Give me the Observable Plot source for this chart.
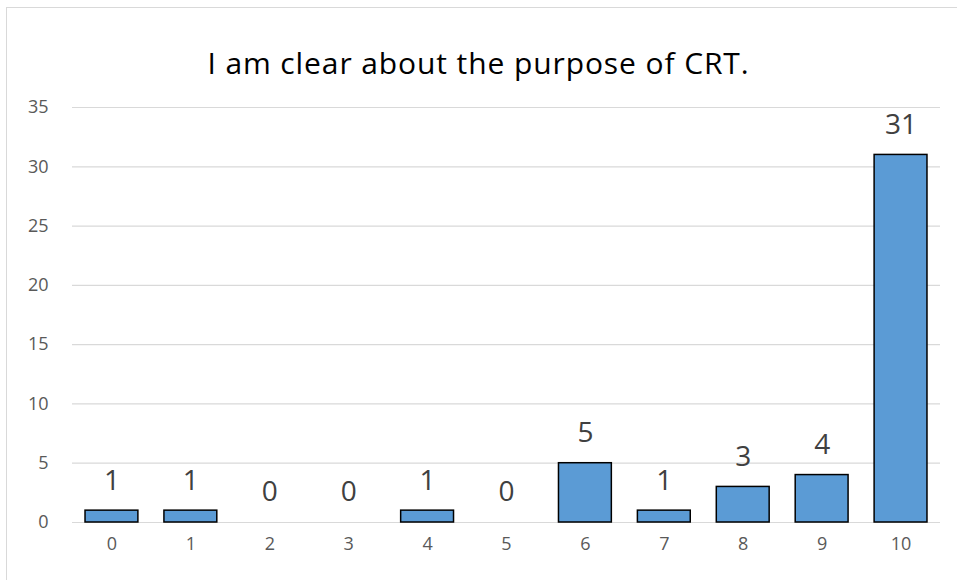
<!DOCTYPE html>
<html>
<head>
<meta charset="utf-8">
<script src="https://cdn.jsdelivr.net/npm/d3@7"></script>
<script src="https://cdn.jsdelivr.net/npm/@observablehq/plot@0.6"></script>
<style>
  body { margin: 0; background: #fff; font-family: "Open Sans", sans-serif; }
  #wrap { position: relative; width: 957px; height: 580px; overflow: hidden; }
  #frame { position: absolute; left: 6px; top: 7px; width: 960px; height: 600px; border: 1px solid #d9d9d9; box-sizing: border-box; }
  #title { position: absolute; left: 0; top: 0; width: 957px; height: 90px; line-height: 1; text-align: center; font-size: 30px; letter-spacing: 0.9px; color: #000; padding-top: 48px; box-sizing: border-box; }
  #chart { position: absolute; left: 0; top: 90px; }
</style>
</head>
<body>
<div id="wrap">
  <div id="frame"></div>
  <div id="title">I am clear about the purpose of CRT.</div>
  <div id="chart"></div>
</div>
<script>
const categories = ["0","1","2","3","4","5","6","7","8","9","10"];
const counts = [1, 1, 0, 0, 1, 0, 5, 1, 3, 4, 31];
const yTicks = [0, 5, 10, 15, 20, 25, 30, 35];

const data = categories.map((c, i) => ({cat: c, n: counts[i]}));

const chart = Plot.plot({
  width: 957,
  height: 490,
  marginLeft: 72,
  marginRight: 17,
  marginTop: 17,
  marginBottom: 58,
  style: { fontFamily: "Open Sans, sans-serif", background: "transparent" },
  x: { domain: categories, paddingInner: 0.33, paddingOuter: 0.165, round: false, axis: null, label: null },
  y: { domain: [0, 35], axis: null, label: null },
  marks: [
    Plot.gridY(yTicks, { stroke: "#d9d9d9", strokeOpacity: 1, strokeWidth: 1.2 }),
    Plot.text(yTicks, { y: d => d, text: d => String(d), frameAnchor: "left", textAnchor: "end", dx: -24, fontSize: 18, fill: "#595959" }),
    Plot.text(categories, { x: d => d, text: d => d, frameAnchor: "bottom", dy: 27, fontSize: 18, fill: "#595959" }),
    Plot.barY(data, { x: "cat", y: "n", fill: "#5b9bd5", stroke: "#000", strokeWidth: 1.5 }),
    Plot.text(data, { x: "cat", y: "n", text: d => String(d.n), dy: -30, fontSize: 28, fill: "#404040" })
  ]
});
document.getElementById("chart").appendChild(chart);
</script>
</body>
</html>
